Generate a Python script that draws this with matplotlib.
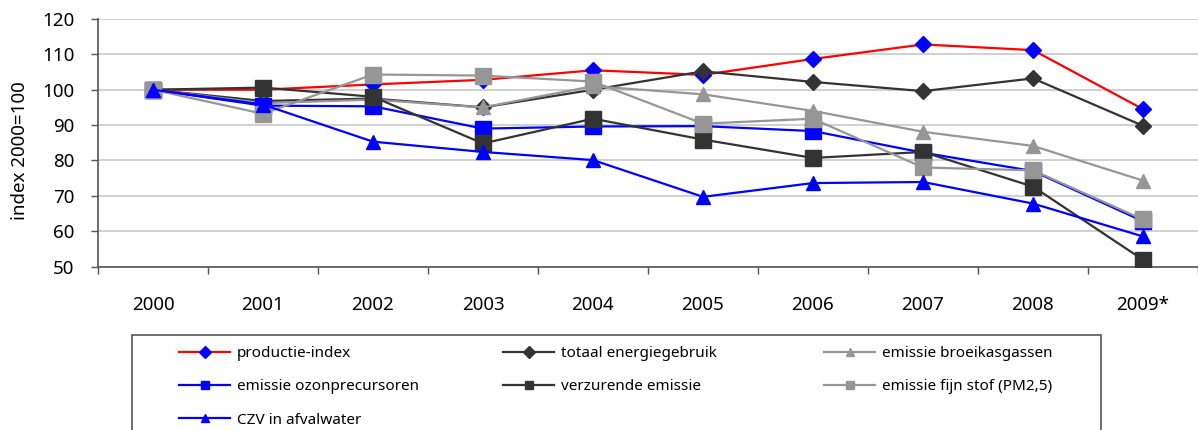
import matplotlib
matplotlib.use("Agg")
import matplotlib.pyplot as plt
from matplotlib.patches import Rectangle

plt.rcParams["font.family"] = ["Noto Sans", "DejaVu Sans"]

jaren = ["2000", "2001", "2002", "2003", "2004", "2005", "2006", "2007", "2008", "2009*"]

productie = [100, 100.0, 101.5, 102.8, 105.5, 104.2, 108.7, 112.8, 111.2, 94.5]
energie = [100, 96.8, 97.5, 95.0, 100.0, 105.2, 102.2, 99.6, 103.2, 89.8]
broeikas = [100, 96.2, 97.2, 95.0, 101.0, 98.7, 94.0, 88.1, 84.1, 74.3]
ozon = [100, 95.5, 95.3, 89.0, 89.6, 89.7, 88.3, 82.2, 77.0, 62.8]
verzurend = [100, 100.6, 98.0, 84.8, 91.8, 85.9, 80.7, 82.4, 72.6, 51.9]
fijnstof = [100, 93.2, 104.3, 104.0, 102.3, 90.4, 91.8, 78.0, 77.2, 63.3]
czv = [100, 95.8, 85.3, 82.4, 80.1, 69.7, 73.6, 73.9, 67.8, 58.5]

donker = "#333333"
grijs = "#969696"
blauw = "#0000ff"
rood = "#ff0000"

W, H = 1198, 430
fig = plt.figure(figsize=(W / 100, H / 100), dpi=100)
ax = fig.add_axes([98 / W, 1 - 266.5 / H, 1 - 98 / W, (266.5 - 19) / H])

x = list(range(len(jaren)))
lw = 1.6

l_prod, = ax.plot(x, productie, color=rood, lw=lw, marker="D", ms=8.5, mfc=blauw, mec=blauw,
                  label="productie-index", zorder=3)
l_ener, = ax.plot(x, energie, color=donker, lw=lw, marker="D", ms=8.5, mfc=donker, mec=donker,
                  label="totaal energiegebruik", zorder=3)
l_broe, = ax.plot(x, broeikas, color=grijs, lw=lw, marker="^", ms=10, mfc=grijs, mec=grijs,
                  label="emissie broeikasgassen", zorder=3)
l_ozon, = ax.plot(x, ozon, color=blauw, lw=lw, marker="s", ms=11.5, mfc=blauw, mec=blauw,
                  label="emissie ozonprecursoren", zorder=3)
l_verz, = ax.plot(x, verzurend, color=donker, lw=lw, marker="s", ms=11.5, mfc=donker, mec=donker,
                  label="verzurende emissie", zorder=3)
l_fijn, = ax.plot(x, fijnstof, color=grijs, lw=lw, marker="s", ms=11.5, mfc=grijs, mec=grijs,
                  label="emissie fijn stof (PM2,5)", zorder=3)
l_czv, = ax.plot(x, czv, color=blauw, lw=lw, marker="^", ms=10, mfc=blauw, mec=blauw,
                 label="CZV in afvalwater", zorder=3)

ax.set_xlim(-0.5, len(jaren) - 0.5)
ax.set_ylim(50, 120)
ax.set_yticks(range(50, 121, 10))
ax.yaxis.grid(True, color="#c8c8c8", lw=1.2)
ax.set_axisbelow(True)

ax.set_xticks(x)
ax.set_xticklabels(jaren)
ax.set_xticks([i - 0.5 for i in range(len(jaren) + 1)], minor=True)
ax.tick_params(axis="x", which="major", length=0, pad=21, labelsize=13.5)
ax.tick_params(axis="x", which="minor", length=5, width=1, color="#555555", direction="out")
ax.tick_params(axis="y", length=5, width=1, color="#555555", pad=12, labelsize=13.5)

for s in ["top", "right"]:
    ax.spines[s].set_visible(False)
for s in ["left", "bottom"]:
    ax.spines[s].set_color("#555555")
    ax.spines[s].set_linewidth(1.2)

ax.set_ylabel("index 2000=100", fontsize=13.5)
ax.yaxis.set_label_coords(-0.063, 0.47)

# legenda: kader en drie kolommen
fig.patches.append(Rectangle((132 / W, -0.05), (1101 - 132) / W, 1 - 335 / H + 0.05,
                             transform=fig.transFigure, fill=False,
                             edgecolor="#555555", lw=1.2, clip_on=False))

kolommen = [([l_prod, l_ozon, l_czv], 179), ([l_ener, l_verz], 503), ([l_broe, l_fijn], 824)]
for hs, xpos in kolommen:
    leg = fig.legend(handles=hs, loc="upper left", bbox_to_anchor=(xpos / W, 1 - 346 / H),
                     fontsize=11, frameon=False, handlelength=3.35, handletextpad=0.45,
                     labelspacing=1.2, borderpad=0, borderaxespad=0)
    for h in leg.legend_handles:
        h.set_markersize(6)

fig.savefig("out.png", dpi=100)
